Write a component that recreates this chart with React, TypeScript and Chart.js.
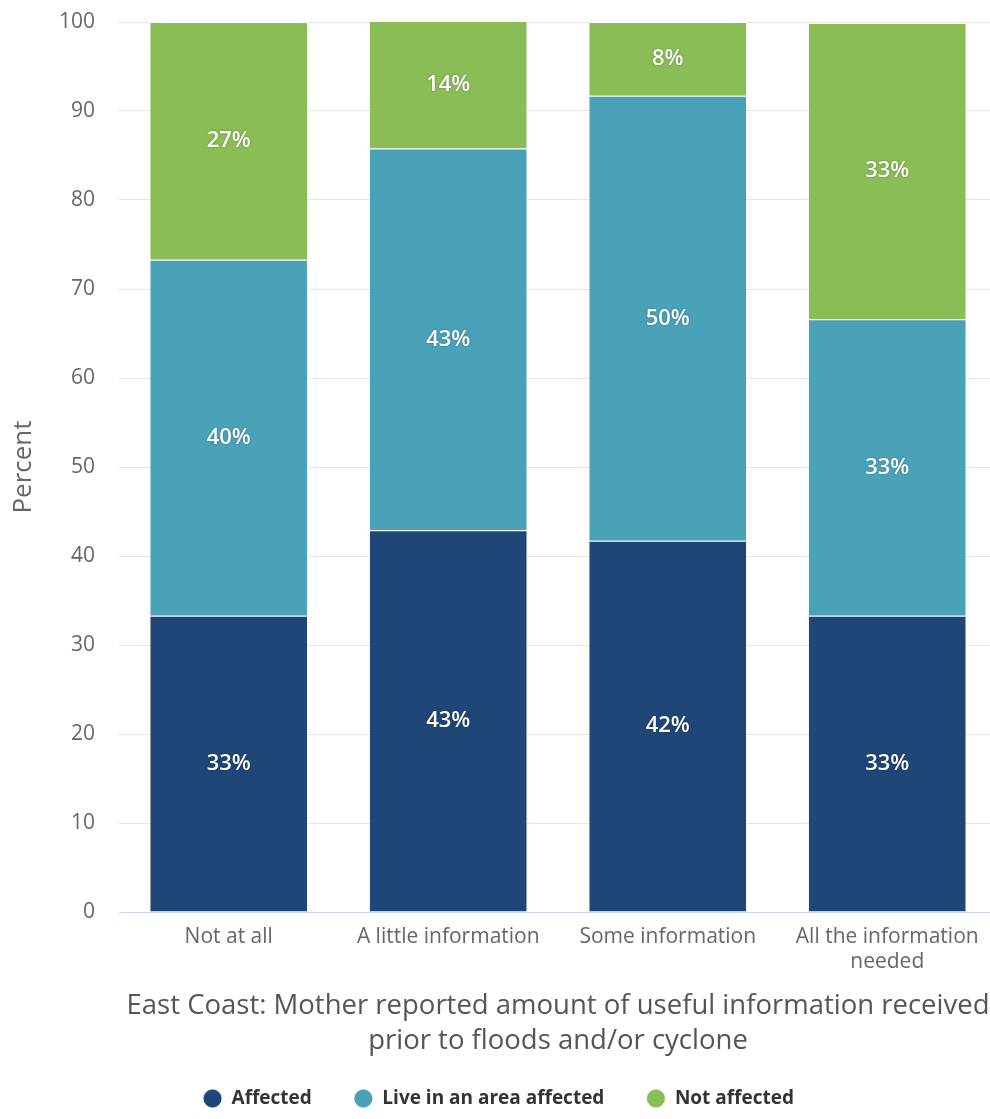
import React, { useEffect, useRef } from 'react';
import { Chart, registerables } from 'chart.js';

Chart.register(...registerables);

const categories: (string | string[])[] = [
  'Not at all',
  'A little information',
  'Some information',
  ['All the information', 'needed'],
];
const affected = [33.3, 42.9, 41.7, 33.3];
const liveInArea = [40.0, 42.9, 50.0, 33.3];
const notAffected = [26.7, 14.3, 8.3, 33.3];
const seriesNames = ['Affected', 'Live in an area affected', 'Not affected'];
const seriesColors = ['#1f4677', '#4aa2b8', '#8bbd56'];
const xTitle = [
  'East Coast: Mother reported amount of useful information received',
  'prior to floods and/or cyclone',
];
const yTitle = 'Percent';

const FONT = '"Open Sans", "DejaVu Sans", sans-serif';

const segmentLabels = {
  id: 'segmentLabels',
  afterDatasetsDraw(chart: any) {
    const ctx = chart.ctx;
    ctx.save();
    ctx.font = `600 22px ${FONT}`;
    ctx.fillStyle = '#ffffff';
    ctx.textAlign = 'center';
    ctx.textBaseline = 'middle';
    ctx.shadowColor = 'rgba(0,0,0,0.35)';
    ctx.shadowBlur = 2;
    chart.data.datasets.forEach((ds: any, i: number) => {
      const meta = chart.getDatasetMeta(i);
      meta.data.forEach((el: any, j: number) => {
        const v = ds.data[j];
        const p = el.getProps(['x', 'y', 'base'], true);
        ctx.fillText(Math.round(v) + '%', p.x, (p.y + p.base) / 2);
      });
    });
    ctx.restore();
  },
};

export default function App() {
  const ref = useRef<HTMLCanvasElement>(null);

  useEffect(() => {
    const canvas = ref.current;
    if (!canvas) return;
    const values = [affected, liveInArea, notAffected];
    const chart = new Chart(canvas, {
      type: 'bar',
      data: {
        labels: categories,
        datasets: values.map((d, i) => ({
          label: seriesNames[i],
          data: d,
          backgroundColor: seriesColors[i],
          borderColor: '#ffffff',
          borderWidth: { top: 1, left: 0, right: 0, bottom: 0 },
          borderSkipped: false,
          categoryPercentage: 1,
          barPercentage: 0.715,
        })),
      },
      options: {
        responsive: false,
        animation: false,
        events: [],
        devicePixelRatio: 1,
        layout: { autoPadding: false, padding: { top: 22, right: 3, left: 0, bottom: 0 } },
        plugins: {
          tooltip: { enabled: false },
          legend: {
            position: 'bottom',
            labels: {
              usePointStyle: true,
              pointStyle: 'circle',
              boxWidth: 19,
              boxHeight: 13,
              padding: 42,
              color: '#333333',
              font: { family: FONT, size: 19, weight: 'bold' },
            },
          },
        },
        scales: {
          x: {
            stacked: true,
            grid: { display: false, drawTicks: false },
            border: { display: true, color: '#ccd6eb', width: 1 },
            ticks: {
              color: '#666666',
              font: { family: FONT, size: 21, lineHeight: 25 / 21 },
              padding: 13,
              maxRotation: 0,
              autoSkip: false,
            },
            title: {
              display: true,
              text: xTitle,
              color: '#555555',
              font: { family: FONT, size: 27.5, lineHeight: 35 / 27.5 },
              padding: { top: 0, bottom: -12 },
            },
            afterFit: (s: any) => {
              s.height = 135;
              s.paddingLeft = 0;
              s.paddingRight = 0;
            },
          },
          y: {
            stacked: true,
            min: 0,
            max: 100,
            ticks: {
              stepSize: 10,
              color: '#666666',
              font: { family: FONT, size: 21 },
              padding: 24,
            },
            grid: {
              drawTicks: false,
              lineWidth: 1,
              color: (c: any) => (c.tick && c.tick.value === 0 ? '#ccd6eb' : '#e6e6e6'),
            },
            border: { display: false },
            title: {
              display: true,
              text: yTitle,
              color: '#666666',
              font: { family: FONT, size: 26 },
              padding: { top: 8, bottom: 0 },
            },
            afterFit: (s: any) => {
              s.width = 119;
              s.paddingTop = 0;
              s.paddingBottom = 0;
            },
          },
        },
      },
      plugins: [segmentLabels],
    } as any);
    return () => chart.destroy();
  }, []);

  return (
    <div
      style={{
        position: 'fixed',
        left: 0,
        top: 0,
        width: 990,
        height: 1119,
        overflow: 'hidden',
        background: '#ffffff',
      }}
    >
      <canvas ref={ref} width={1000} height={1118} style={{ display: 'block', width: 1000, height: 1118 }} />
    </div>
  );
}
